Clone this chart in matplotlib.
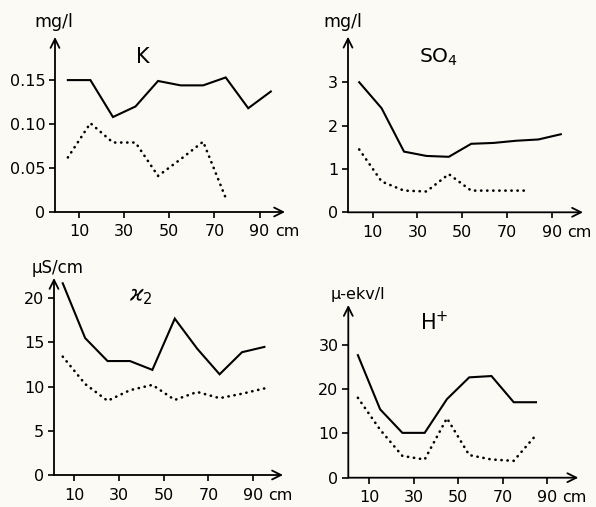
import matplotlib
matplotlib.use("Agg")
import matplotlib.pyplot as plt

# ---- data ----
depth_K = [5, 15, 25, 35, 45, 55, 65, 75, 85, 95]
K_solid = [0.150, 0.150, 0.108, 0.120, 0.149, 0.144, 0.144, 0.153, 0.118, 0.137]
depth_K_dot = [5, 15, 25, 35, 45, 55, 65, 75]
K_dot = [0.062, 0.101, 0.079, 0.079, 0.041, 0.060, 0.080, 0.016]

depth_SO4 = [4, 14, 24, 34, 44, 54, 64, 74, 84, 94]
SO4_solid = [3.0, 2.4, 1.4, 1.3, 1.28, 1.58, 1.6, 1.65, 1.68, 1.8]
depth_SO4_dot = [4, 14, 24, 34, 44, 54, 64, 74, 78]
SO4_dot = [1.45, 0.71, 0.5, 0.48, 0.88, 0.5, 0.5, 0.5, 0.5]

depth_k2 = [5, 15, 25, 35, 45, 55, 65, 75, 85, 95]
k2_solid = [21.7, 15.5, 12.9, 12.9, 11.9, 17.7, 14.3, 11.4, 13.9, 14.5]
k2_dot = [13.4, 10.3, 8.4, 9.6, 10.2, 8.5, 9.4, 8.7, 9.2, 9.8]

depth_H = [5, 15, 25, 35, 45, 55, 65, 75, 85]
H_solid = [27.6, 15.4, 10.1, 10.1, 17.7, 22.6, 22.9, 17.0, 17.0]
H_dot = [18.0, 10.8, 4.9, 4.1, 13.4, 5.1, 4.1, 3.8, 9.6]

xticks = [10, 30, 50, 70, 90]
xticklabels = ["10", "30", "50", "70", "90"]

W, H = 596, 507
BG = "#fbfaf5"
plt.rcParams['font.family'] = ['DejaVu Sans']

fig = plt.figure(figsize=(W / 100, H / 100), dpi=100, facecolor=BG)


def make_ax(left_px, axis_y_px, right_px, top_px, xlim, ylim):
    ax = fig.add_axes([left_px / W, (H - axis_y_px) / H,
                       (right_px - left_px) / W, (axis_y_px - top_px) / H])
    ax.set_facecolor("none")
    for s in ax.spines.values():
        s.set_visible(False)
    ax.set_xlim(*xlim)
    ax.set_ylim(*ylim)
    ap = dict(arrowstyle='->', lw=1.3, color='black', mutation_scale=16,
              shrinkA=0, shrinkB=0)
    ax.annotate('', xy=(1, 0), xytext=(0, 0), xycoords='axes fraction', arrowprops=ap)
    ax.annotate('', xy=(0, 1), xytext=(0, 0), xycoords='axes fraction', arrowprops=ap)
    ax.tick_params(direction='out', length=4, width=1.2, labelsize=11.5, pad=3)
    ax.tick_params(axis='x', pad=5)
    ax.set_xticks(xticks)
    ax.set_xticklabels(xticklabels)
    ax.annotate('cm', xy=(90, 0), xycoords=ax.get_xaxis_transform(),
                xytext=(11, -9), textcoords='offset points',
                ha='left', va='top', fontsize=11.5)
    return ax


solid_kw = dict(color='black', lw=1.5, solid_joinstyle='miter', clip_on=False)
dot_kw = dict(color='black', lw=1.9, linestyle=(0, (0.1, 2.2)),
              dash_capstyle='round', clip_on=False)

# K
ax1 = make_ax(55, 212, 285, 37, (-0.7, 101.3), (0, 0.199))
ax1.plot(depth_K, K_solid, **solid_kw)
ax1.plot(depth_K_dot, K_dot, **dot_kw)
ax1.set_yticks([0, 0.05, 0.10, 0.15])
ax1.set_yticklabels(["0", "0.05", "0.10", "0.15"])

# SO4
ax2 = make_ax(348, 212.3, 583, 36.7, (-1.0, 103.9), (0, 4.05))
ax2.plot(depth_SO4, SO4_solid, **solid_kw)
ax2.plot(depth_SO4_dot, SO4_dot, **dot_kw)
ax2.set_yticks([0, 1, 2, 3])

# kappa2
ax3 = make_ax(54, 475, 283, 278, (1.1, 103.3), (0, 22.3))
ax3.plot(depth_k2, k2_solid, **solid_kw)
ax3.plot(depth_k2, k2_dot, **dot_kw)
ax3.set_yticks([0, 5, 10, 15, 20])

# H+
ax4 = make_ax(348.3, 477.7, 578.3, 305, (0.7, 104.0), (0, 38.9))
ax4.plot(depth_H, H_solid, **solid_kw)
ax4.plot(depth_H, H_dot, **dot_kw)
ax4.set_yticks([0, 10, 20, 30])

# unit labels
def ftxt(x, y, s, size, **kw):
    fig.text(x / W, 1 - y / H, s, fontsize=size, ha='center', va='center', **kw)

ftxt(53.5, 22, "mg/l", 12.5)
ftxt(343, 22, "mg/l", 12.5)
ftxt(57.5, 268, "μS/cm", 12)
ftxt(357.5, 295, "μ-ekv/l", 11.5)

# titles
ftxt(143, 57, "K", 15)
ftxt(438, 57, r"SO$_4$", 14.5)
ftxt(141, 297, r"$\varkappa_2$", 15)
ftxt(434, 322, r"H$^{+}$", 15)

fig.savefig("out.png", dpi=100, facecolor=BG)
